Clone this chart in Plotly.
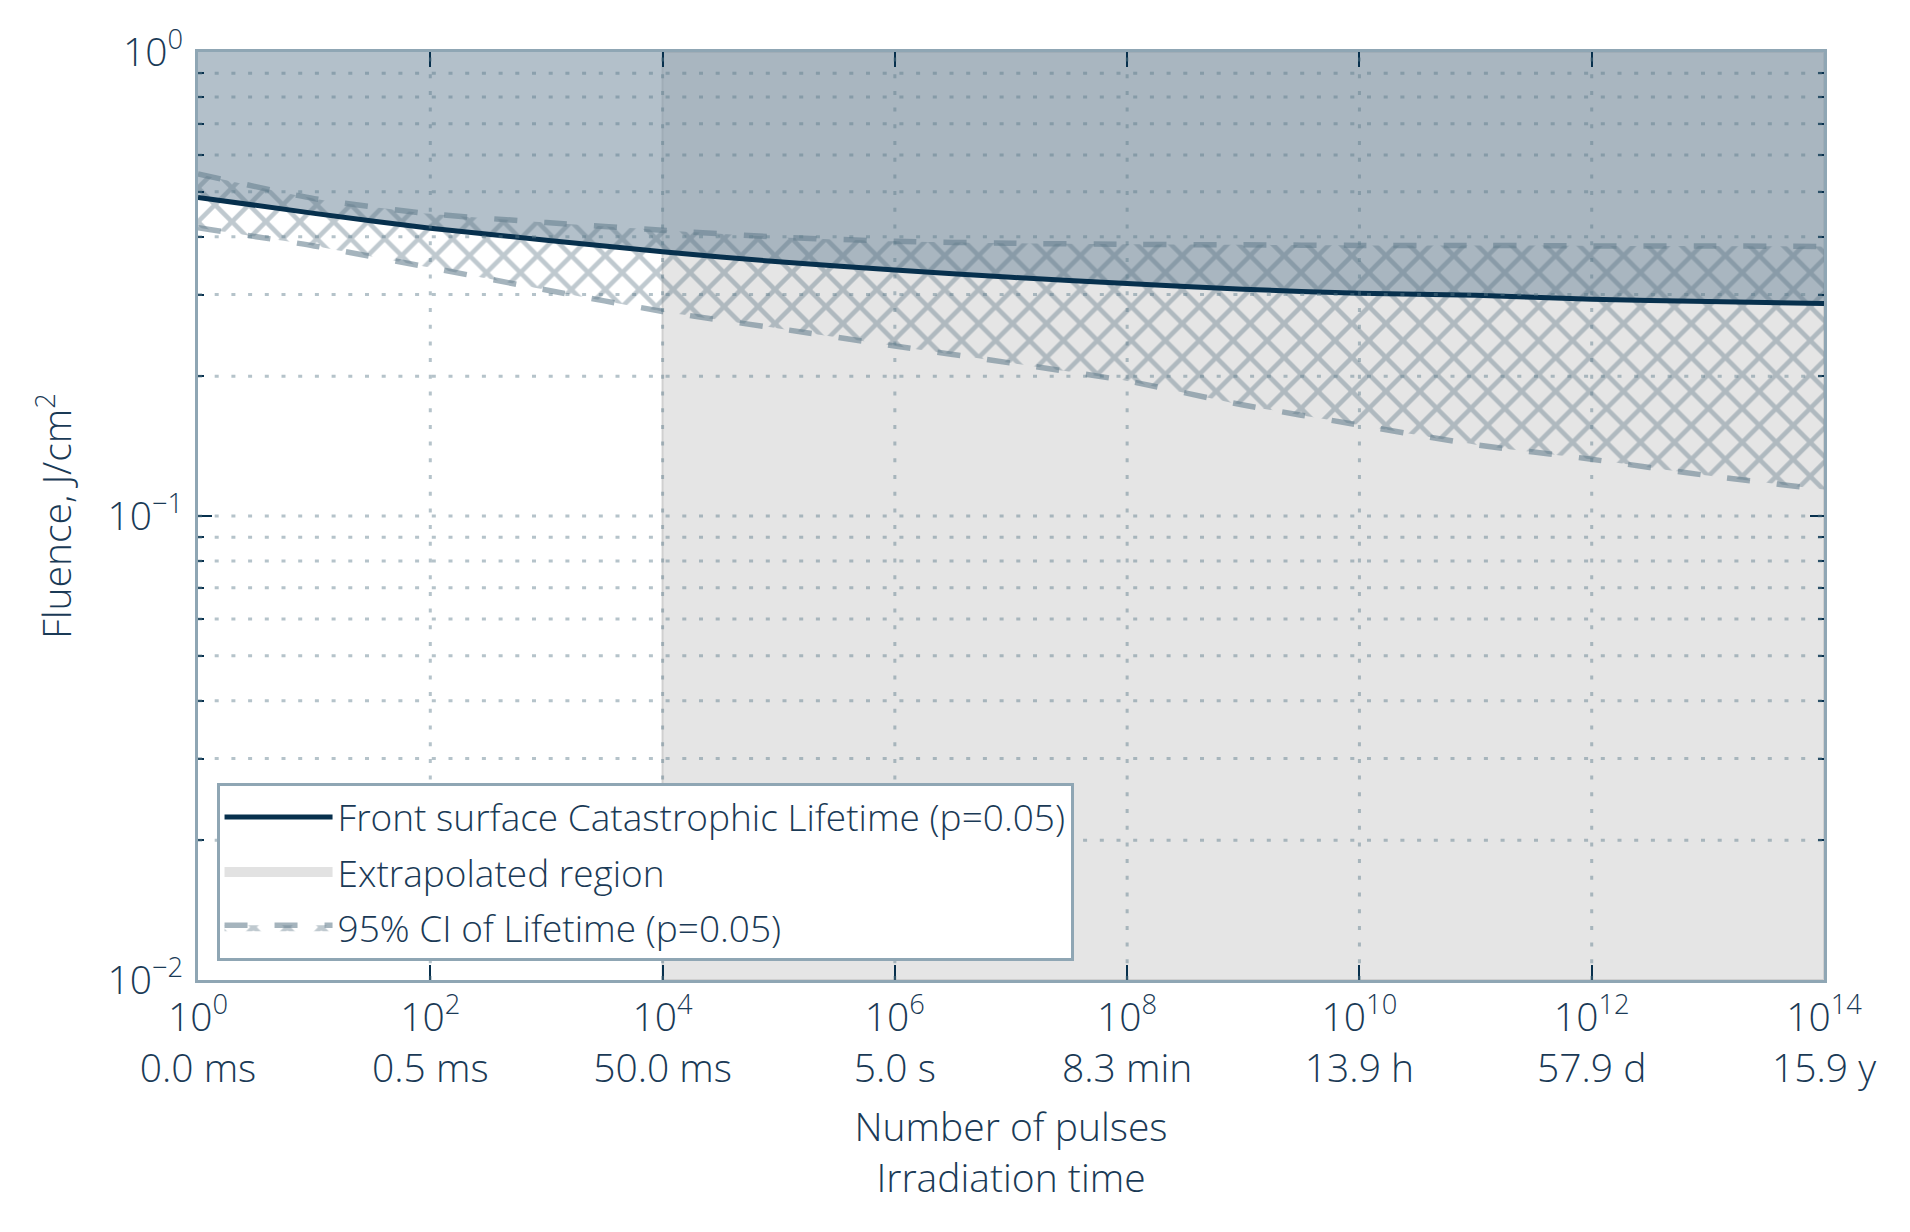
import plotly.graph_objects as go

# ---------------- data ----------------
pulse_exponents = list(range(15))
pulses = [10.0 ** e for e in pulse_exponents]

lifetime = [0.486, 0.449, 0.417, 0.393, 0.371, 0.353, 0.339, 0.327,
            0.317, 0.308, 0.302, 0.299, 0.293, 0.290, 0.287]
ci_upper = [0.546, 0.483, 0.448, 0.429, 0.413, 0.399, 0.391, 0.387,
            0.385, 0.384, 0.383, 0.383, 0.382, 0.382, 0.381]
ci_lower = [0.418, 0.382, 0.343, 0.307, 0.276, 0.2535, 0.2325, 0.2136,
            0.1955, 0.1735, 0.157, 0.1425, 0.1325, 0.1222, 0.114]

extrapolated_range = [1e4, 1e14]
fluence_range = [0.01, 1.0]

x_tick_values = [1e0, 1e2, 1e4, 1e6, 1e8, 1e10, 1e12, 1e14]
x_tick_powers = ["0", "2", "4", "6", "8", "10", "12", "14"]
time_labels = ["0.0 ms", "0.5 ms", "50.0 ms", "5.0 s", "8.3 min", "13.9 h", "57.9 d", "15.9 y"]

y_tick_values = [0.01, 0.1, 1.0]
y_tick_labels = ["10<sup>\u22122</sup>", "10<sup>\u22121</sup>", "10<sup>0</sup>"]
y_minor_values = [k * d for d in (0.01, 0.1) for k in range(2, 10)]
y_grid_values = y_minor_values + [0.1]

# ---------------- style ----------------
TEXT = "#1a3a56"
NAVY = "#07304d"
AXIS = "#8fa6b4"
GRID = "rgba(91,122,138,0.45)"
FONT = "Open Sans"
FS = 39
LFS = 37

fig = go.Figure()

ex0, ex1 = extrapolated_range
fy0, fy1 = fluence_range

# extrapolated region
fig.add_trace(go.Scatter(
    x=[ex0, ex1, ex1, ex0, ex0], y=[fy0, fy0, fy1, fy1, fy0],
    mode="lines", fill="toself", fillcolor="#e5e5e5",
    line=dict(color="#d0d0d0", width=2),
    showlegend=False, hoverinfo="skip"))

# region above lifetime
fig.add_trace(go.Scatter(
    x=pulses, y=lifetime, mode="lines",
    line=dict(width=0, shape="spline", smoothing=0.6),
    showlegend=False, hoverinfo="skip"))
fig.add_trace(go.Scatter(
    x=pulses, y=[fy1] * len(pulses), mode="lines",
    line=dict(width=0), fill="tonexty", fillcolor="rgba(128,150,167,0.6)",
    showlegend=False, hoverinfo="skip"))

# CI band (hatched)
CI_LINE = "rgba(100,125,142,0.58)"
fig.add_trace(go.Scatter(
    x=pulses, y=ci_lower, mode="lines",
    line=dict(width=5.5, color=CI_LINE, dash="23px,27px", shape="spline", smoothing=0.6),
    showlegend=False, hoverinfo="skip"))
fig.add_trace(go.Scatter(
    x=pulses, y=ci_upper, mode="lines",
    line=dict(width=5.5, color=CI_LINE, dash="23px,27px", shape="spline", smoothing=0.6),
    fill="tonexty", fillcolor="rgba(0,0,0,0)",
    fillpattern=dict(shape="x", fgcolor="rgba(85,110,128,0.75)",
                     bgcolor="rgba(0,0,0,0)", size=24, solidity=0.35),
    name="95% CI of Lifetime (p=0.05)", legendrank=3, legendgroup="c",
    hoverinfo="skip"))

# legend entry for the extrapolated region
fig.add_trace(go.Scatter(
    x=[None], y=[None], mode="lines",
    line=dict(color="#e2e2e2", width=24),
    name="Extrapolated region", legendrank=2, legendgroup="b"))

# main lifetime line
fig.add_trace(go.Scatter(
    x=pulses, y=lifetime, mode="lines",
    line=dict(width=5, color=NAVY, shape="spline", smoothing=0.6),
    name="Front surface Catastrophic Lifetime (p=0.05)", legendrank=1,
    legendgroup="a"))

# dotted grid drawn above fills
shapes = []
for xv in x_tick_values[1:-1]:
    shapes.append(dict(type="line", xref="x", yref="paper", x0=xv, x1=xv, y0=0, y1=1,
                       line=dict(color=GRID, width=3, dash="4px,12.7px"), layer="above"))
for yv in y_grid_values:
    shapes.append(dict(type="line", xref="paper", yref="y", x0=0, x1=1, y0=yv, y1=yv,
                       line=dict(color=GRID, width=3, dash="4px,12.7px"), layer="above"))
fig.update_layout(shapes=shapes)

x_ticktext = [f"10<sup>{p}</sup><br>{t}" for p, t in zip(x_tick_powers, time_labels)]

fig.update_xaxes(
    type="log", range=[0, 14],
    tickvals=x_tick_values, ticktext=x_ticktext,
    ticks="inside", ticklen=15, tickwidth=2, tickcolor=NAVY,
    showline=True, linecolor=AXIS, linewidth=3, mirror="allticks",
    showgrid=False, zeroline=False,
    tickfont=dict(family=FONT, size=FS, color=TEXT, weight=300),
    ticklabelstandoff=1,
    title=dict(text="Number of pulses<br>Irradiation time",
               font=dict(family=FONT, size=FS, color=TEXT, weight=300), standoff=23),
)
fig.update_yaxes(
    type="log", range=[-2, 0],
    tickvals=y_tick_values, ticktext=y_tick_labels,
    ticks="inside", ticklen=14, tickwidth=2, tickcolor=NAVY,
    minor=dict(tickvals=y_minor_values, ticks="inside", ticklen=6, tickwidth=2,
               tickcolor=NAVY, showgrid=False),
    showline=True, linecolor=AXIS, linewidth=3, mirror="allticks",
    showgrid=False, zeroline=False,
    tickfont=dict(family=FONT, size=FS, color=TEXT, weight=300),
    ticklabelstandoff=4,
    title=dict(text="Fluence, J/cm<sup>2</sup>",
               font=dict(family=FONT, size=FS, color=TEXT, weight=300), standoff=24),
)

fig.update_layout(
    width=1910, height=1232,
    margin=dict(l=198, r=86, t=52, b=252),
    paper_bgcolor="white", plot_bgcolor="white",
    font=dict(family=FONT, size=FS, color=TEXT, weight=300),
    showlegend=True,
    legend=dict(
        x=0.0114, y=0.02, xanchor="left", yanchor="bottom",
        bgcolor="white", bordercolor=AXIS, borderwidth=3,
        font=dict(family=FONT, size=LFS, color=TEXT, weight=300),
        tracegroupgap=4, itemwidth=108,
    ),
)

fig.write_html("out.html")
